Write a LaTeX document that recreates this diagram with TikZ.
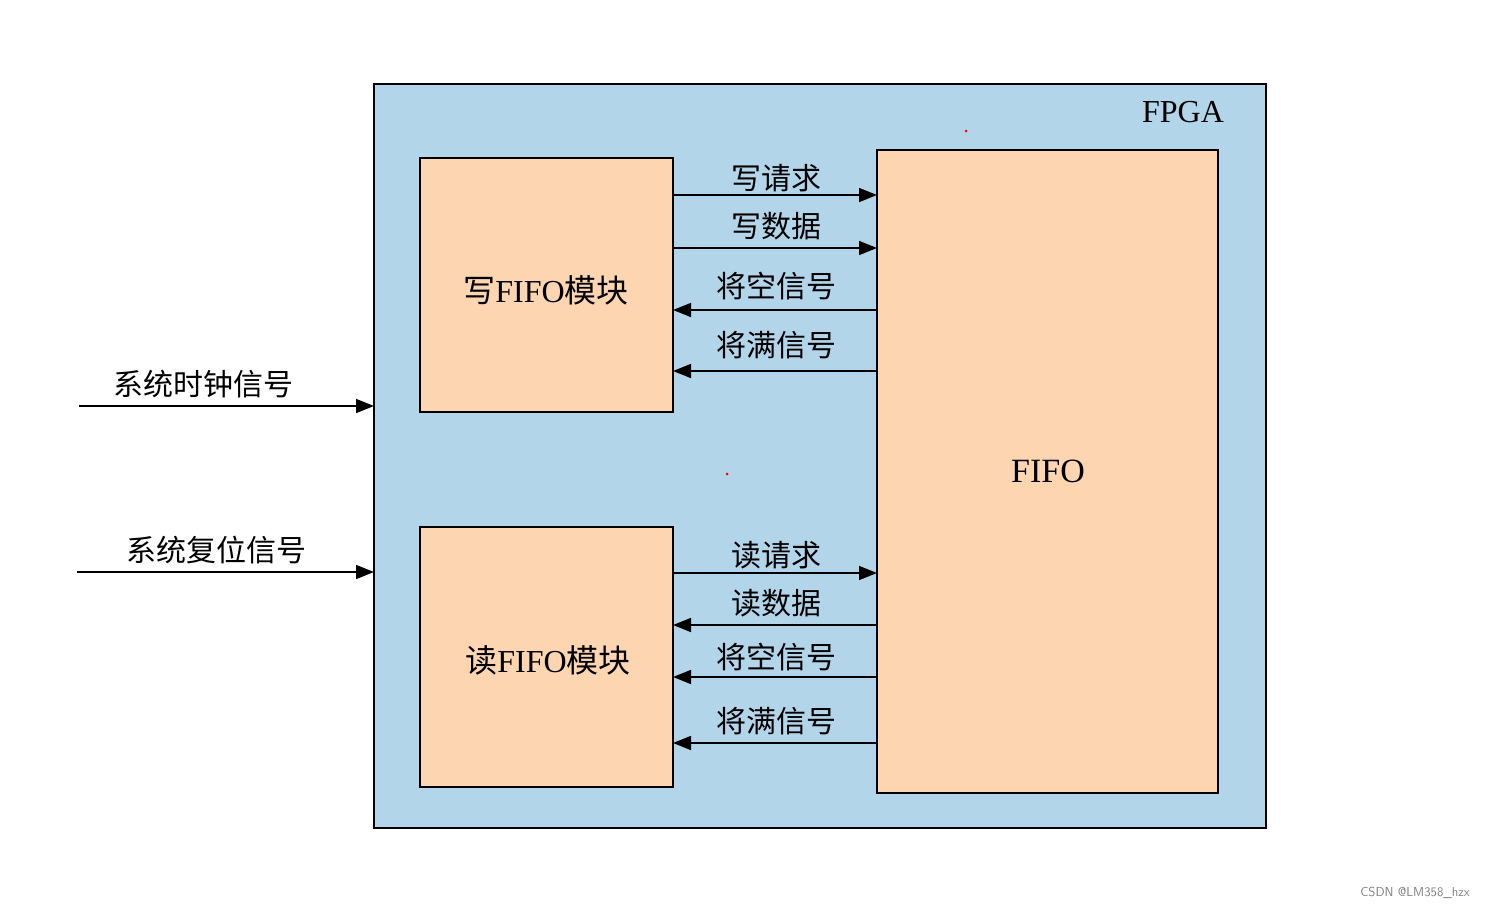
\documentclass[tikz,border=0pt]{standalone}
\usepackage{fontspec}
\setmainfont{Liberation Serif}
\newfontfamily\cjk{Noto Sans CJK SC}
\usetikzlibrary{arrows.meta}
\definecolor{fpga}{HTML}{B3D5EA}
\definecolor{mod}{HTML}{FDD5B1}
\begin{document}
\begin{tikzpicture}[x=1pt,y=-1pt,
  box/.style={draw=black,line width=1.5pt,fill=mod},
  sig/.style={line width=1.5pt,-{Triangle[length=18pt,width=14pt]}},
  lab/.style={font=\cjk\fontsize{30}{32}\selectfont,anchor=base},
  big/.style={font=\cjk\fontsize{32}{34}\selectfont,anchor=center}]
\useasboundingbox (0,0) rectangle (1496,910);
\draw[line width=1.5pt,fill=fpga] (374,84) rectangle (1266,828);
\node[anchor=center,font=\fontsize{32}{34}\selectfont] (fl) at (1183,112) {FPGA};
\draw[box] (420,158) rectangle (673,412);
\draw[box] (420,527) rectangle (673,787);
\draw[box] (877,150) rectangle (1218,793);
\coordinate (w) at (673,0); \coordinate (f) at (877,0);
\node[big] (wm) at (546,290) {写\rmfamily FIFO\cjk 模块};
\node[big] (rm) at (548,660) {读\rmfamily FIFO\cjk 模块};
\node[anchor=center,font=\fontsize{34}{36}\selectfont] (ff) at (1048,471) {FIFO};
\draw[sig] (673,195) -- (877,195); \node[lab] at (776,189) {写请求};
\draw[sig] (673,248) -- (877,248); \node[lab] at (776,237) {写数据};
\draw[sig] (877,310) -- (673,310); \node[lab] at (776,297) {将空信号};
\draw[sig] (877,371) -- (673,371); \node[lab] at (776,356) {将满信号};
\draw[sig] (673,573) -- (877,573); \node[lab] at (776,566) {读请求};
\draw[sig] (877,625) -- (673,625); \node[lab] at (776,614) {读数据};
\draw[sig] (877,677) -- (673,677); \node[lab] at (776,668) {将空信号};
\draw[sig] (877,743) -- (673,743); \node[lab] at (776,732) {将满信号};
\draw[sig] (79,406) -- (374,406); \node[lab] at (203,395) {系统时钟信号};
\draw[sig] (77,572) -- (374,572); \node[lab] at (216,561) {系统复位信号};
\fill[red] (966,131) circle (1.5pt);
\fill[red] (727,474) circle (1.5pt);
\node[font=\fontfamily{}\sffamily\fontsize{13}{14}\selectfont,text=gray] (wm2) at (1415,893) {CSDN @LM358\_hzx};
\end{tikzpicture}
\end{document}
